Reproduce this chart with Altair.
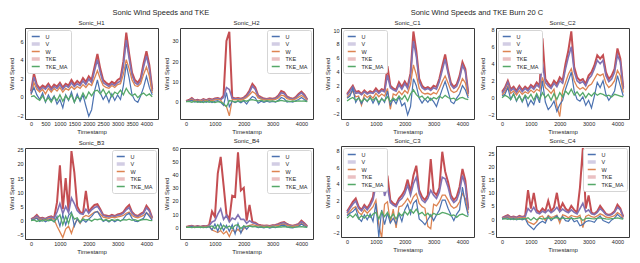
import altair as alt
import pandas as pd

FONT = "Liberation Sans"
TXT = "#262626"

# Timestamps (every 100 samples)
X = list(range(0, 4201, 100))

LEGEND_ORDER = ["U", "V", "W", "TKE", "TKE_MA"]
LINE_COLORS = ["#4c72b0", "#8172b3", "#dd8452", "#c44e52", "#55a868"]
DRAW_ORDER = ["TKE", "V", "W", "U", "TKE_MA"]
STROKE_W = {"TKE": 2.0, "V": 1.6, "W": 1.3, "U": 1.2, "TKE_MA": 1.3}

# ---------------- Sonic_H1 ----------------
H1_TKE = [0.6,2.5,1.3,0.9,1.2,1.0,1.4,0.9,1.3,1.1,1.5,1.0,1.4,1.2,1.8,1.3,1.7,1.4,2.0,1.6,2.2,1.8,3.2,4.6,3.0,1.8,1.5,1.3,1.6,1.4,1.8,2.0,3.8,6.9,4.6,2.6,1.8,1.5,2.0,3.6,4.9,3.4,0.8]
H1_V = [0.4,2.1,1.1,0.7,1.0,0.8,1.2,0.7,1.1,0.9,1.3,0.8,1.2,1.0,1.5,1.1,1.4,1.2,1.7,1.3,1.9,1.5,2.8,4.0,2.6,1.5,1.3,1.1,1.4,1.2,1.5,1.7,3.3,6.1,4.1,2.3,1.5,1.3,1.7,3.2,4.4,3.0,0.6]
H1_W = [0.2,1.5,0.8,0.5,0.8,0.3,0.9,0.5,0.9,0.6,1.0,0.5,0.9,0.7,1.1,0.8,1.1,0.9,1.3,1.0,1.4,1.2,2.0,2.8,1.9,1.2,1.0,0.9,1.2,1.0,1.3,1.4,2.4,4.0,3.0,1.8,1.2,1.1,1.4,2.4,3.2,2.2,0.4]
H1_U = [0.3,1.0,0.2,-0.3,0.4,-0.6,0.2,-0.4,0.1,-0.8,-0.3,-1.2,0.2,-0.4,0.5,-0.6,0.3,-0.5,0.2,-1.0,-2.1,-1.4,0.6,1.8,0.4,-0.3,0.2,-0.6,0.3,-0.4,0.2,-0.3,1.2,3.5,2.0,0.2,-0.4,-0.6,0.1,1.0,2.2,1.0,0.2]
H1_MA = [0.0,0.1,-0.2,-0.4,0.1,-0.5,-0.1,-0.6,0.0,-0.4,0.2,-0.5,0.1,-0.3,0.2,-0.6,0.0,-0.3,0.4,-0.2,0.5,0.1,0.6,0.7,0.3,0.8,0.2,0.6,0.0,0.5,0.3,0.7,0.2,0.9,0.4,0.1,0.3,-0.1,0.2,0.4,0.1,0.3,0.0]

# ---------------- Sonic_H2 ----------------
H2_TKE = [0.3,0.8,1.8,0.6,0.9,0.5,1.2,0.7,1.4,1.0,1.6,1.8,1.2,3.0,30.0,34.5,2.0,1.6,1.8,1.4,2.0,3.2,5.5,8.8,7.0,3.0,2.2,1.5,1.3,1.6,1.4,1.8,3.0,5.2,4.6,2.5,1.8,1.4,2.2,3.8,5.0,3.5,1.0]
H2_V = [0.2,0.6,1.4,0.5,0.7,0.4,1.0,0.6,1.1,0.8,1.3,1.5,1.0,2.0,7.0,6.0,1.6,1.3,1.5,1.1,1.7,2.7,4.6,7.6,6.0,2.5,1.8,1.2,1.1,1.3,1.2,1.5,2.5,4.4,3.9,2.1,1.5,1.2,1.8,3.2,4.3,3.0,0.8]
H2_W = [0.1,0.4,1.0,0.3,0.5,0.2,0.7,0.4,0.8,0.5,0.9,1.1,0.7,-1.5,-2.5,-7.0,1.1,0.9,1.1,0.8,1.2,2.0,3.4,5.0,4.0,1.8,1.3,0.9,0.8,1.0,0.9,1.1,1.8,3.2,2.8,1.5,1.1,0.9,1.3,2.2,3.0,2.1,0.5]
H2_U = [0.0,0.3,0.6,-0.2,0.2,-0.4,0.3,-0.3,0.4,-0.5,0.2,0.5,-0.4,-1.8,4.5,-2.5,0.3,-0.5,0.2,-0.6,0.4,-1.2,1.0,2.5,1.8,-0.8,0.2,-0.4,0.2,-0.3,0.1,-0.2,0.6,2.0,1.4,-0.2,0.1,-0.3,0.4,1.0,2.0,1.0,0.1]
H2_MA = [0.0,0.1,-0.3,0.2,-0.4,0.0,-0.5,0.2,-0.3,0.1,-0.5,0.0,-0.3,-1.0,-2.5,0.5,0.2,-0.2,0.4,0.0,0.6,0.2,0.8,1.0,0.6,0.3,0.7,0.1,0.5,0.2,0.4,0.0,0.3,0.6,0.2,0.4,0.0,0.3,0.1,0.4,0.2,0.3,0.0]

# ---------------- Sonic_C1 ----------------
C1_TKE = [0.8,1.4,2.0,1.1,1.2,0.8,1.3,0.9,1.2,1.0,1.6,1.1,1.5,1.3,4.8,2.0,1.6,1.4,2.5,1.8,2.6,1.9,3.8,9.8,7.0,3.0,2.0,1.6,1.8,1.5,2.0,1.8,3.0,4.8,6.5,4.2,2.4,1.8,2.2,3.4,5.4,4.4,1.0]
C1_V = [0.6,1.2,1.8,0.9,1.0,0.7,1.1,0.8,1.0,0.9,1.3,0.9,1.3,1.1,3.5,1.7,1.4,1.2,2.1,1.5,2.3,1.6,3.4,8.4,6.2,2.6,1.7,1.4,1.6,1.3,1.7,1.5,2.6,4.2,5.8,3.8,2.1,1.6,1.9,3.0,4.9,4.0,0.8]
C1_W = [0.3,0.8,1.2,0.4,0.5,-0.8,0.7,0.3,0.6,0.2,0.9,0.4,0.8,0.5,1.6,-1.4,0.8,0.6,1.2,0.7,1.3,0.9,2.2,5.0,3.6,1.6,1.0,0.8,0.9,0.7,1.0,0.8,1.6,2.6,3.4,2.4,1.3,1.0,1.2,1.9,3.0,2.4,0.5]
C1_U = [0.2,0.5,1.6,-0.4,0.3,-0.6,0.2,-0.3,0.4,-0.5,0.3,-0.7,0.2,-0.4,1.2,-0.8,0.1,-0.6,0.4,-0.9,-0.5,-2.2,-1.0,3.0,2.0,0.2,-0.5,0.1,-0.4,0.2,-0.3,-1.0,0.3,1.5,2.6,1.2,-0.3,-0.6,0.2,0.8,2.0,1.4,0.2]
C1_MA = [-0.2,0.1,0.3,-0.1,0.2,-0.3,0.1,-0.2,0.2,-0.1,0.3,-0.4,0.1,-0.2,0.4,-0.3,0.2,-0.1,0.5,0.0,0.6,-0.2,0.8,1.4,0.7,0.3,0.5,0.0,0.4,-0.1,0.3,0.1,0.5,0.2,0.6,0.3,0.1,0.2,-0.1,0.2,0.3,0.1,0.0]

# ---------------- Sonic_C2 ----------------
C2_TKE = [0.7,1.2,2.0,1.0,1.3,0.8,1.4,0.9,1.3,1.0,1.5,1.2,1.8,1.4,7.0,2.2,1.7,1.3,2.0,1.6,2.4,2.0,4.0,5.6,7.8,3.6,2.4,2.0,2.2,1.6,2.6,3.0,3.8,5.0,4.6,5.0,3.0,2.2,2.6,3.4,5.8,4.6,1.2]
C2_V = [0.5,1.0,1.8,0.8,1.1,0.6,1.2,0.7,1.1,0.8,1.3,1.0,1.5,1.2,4.0,1.8,1.4,1.1,1.7,1.3,2.0,1.7,3.4,4.8,6.0,3.1,2.0,1.7,1.9,1.4,2.2,2.6,3.4,4.4,4.0,4.4,2.6,1.9,2.2,3.0,5.0,4.2,1.0]
C2_W = [0.3,0.7,1.4,0.5,0.8,0.3,0.8,0.4,0.7,0.5,0.9,0.6,1.0,0.8,2.4,1.2,0.9,0.5,1.0,-1.0,-2.2,0.8,1.8,2.8,3.4,2.0,1.3,1.0,1.2,0.9,1.4,1.6,2.2,2.8,2.6,2.8,1.7,1.2,1.5,2.0,3.2,2.6,0.6]
C2_U = [0.2,0.4,1.2,-0.2,0.5,-0.4,0.3,-0.5,0.2,-1.0,-0.3,-0.8,0.3,-0.6,2.0,-0.5,-1.4,-1.0,-0.4,-1.6,-0.8,-0.3,1.0,2.0,3.0,0.8,-0.2,-0.4,0.1,-0.9,-0.3,-1.2,0.2,1.8,1.2,2.0,0.4,-0.3,0.2,0.8,2.6,1.4,0.2]
C2_MA = [0.0,0.3,0.1,-0.2,0.4,-0.3,0.2,-0.4,0.3,-0.1,0.4,-0.3,0.5,-0.2,0.6,0.0,0.4,-0.3,0.5,-0.2,0.6,0.1,0.8,0.4,1.0,0.3,0.7,0.2,0.6,0.0,0.5,0.2,0.6,0.3,0.5,0.4,0.2,0.3,0.1,0.4,0.3,0.2,0.1]

# ---------------- Sonic_B3 ----------------
B3_TKE = [0.5,1.0,2.0,0.8,1.0,0.6,1.2,1.5,0.9,6.5,19.5,4.0,15.0,3.5,24.5,17.0,5.0,3.0,2.5,10.5,3.0,4.5,5.5,5.8,4.0,2.0,1.8,1.5,2.0,1.6,2.2,2.4,3.0,4.5,5.5,3.0,2.0,1.6,2.4,3.0,5.2,3.8,1.0]
B3_V = [0.4,0.8,1.6,0.6,0.8,0.5,1.0,1.2,0.8,3.0,6.0,2.5,5.0,2.8,8.0,6.0,3.5,2.5,2.2,4.0,2.6,3.8,4.6,5.0,3.5,1.8,1.5,1.3,1.7,1.4,1.9,2.0,2.6,3.8,4.6,2.6,1.7,1.4,2.0,2.6,4.5,3.3,0.8]
B3_W = [0.2,0.5,1.0,0.3,0.5,0.2,0.6,0.8,0.4,-2.0,-4.0,-6.0,-3.0,-2.0,-4.5,-1.5,0.5,-1.0,1.2,1.8,1.4,2.2,3.0,3.2,2.2,1.2,1.0,0.8,1.2,1.0,1.3,1.5,1.8,2.6,3.0,1.8,1.2,1.0,1.4,1.8,2.8,2.0,0.5]
B3_U = [0.1,0.4,0.8,-0.3,0.3,-0.4,0.2,0.5,-0.5,1.5,-2.0,2.0,-1.5,1.8,3.0,-2.0,0.6,-0.8,0.3,-0.6,0.5,1.5,2.8,3.2,1.5,-0.3,0.2,-0.5,0.3,-0.4,0.2,-0.2,0.6,2.0,2.6,0.8,-0.2,-0.4,0.3,0.8,2.8,1.5,0.1]
B3_MA = [0.0,0.2,-0.3,0.1,-0.2,0.3,-0.1,0.2,-0.4,0.8,2.0,-1.5,1.5,-1.0,2.5,0.5,1.0,-0.5,0.6,0.2,0.4,-0.2,0.5,0.3,0.6,0.0,0.4,-0.2,0.3,0.1,0.4,-0.1,0.3,0.2,0.5,0.1,0.3,-0.1,0.2,0.3,0.4,0.1,0.0]

# ---------------- Sonic_B4 ----------------
B4_TKE = [0.3,0.8,1.2,0.5,0.9,0.4,1.0,0.8,1.5,12.0,8.0,41.0,53.5,32.0,10.0,6.0,24.0,23.0,57.0,28.0,30.0,5.0,17.0,4.0,3.5,2.0,1.5,1.2,1.4,1.0,1.5,1.8,2.5,3.5,4.0,2.5,1.5,1.2,1.8,2.5,5.0,3.0,0.8]
B4_V = [0.2,0.6,1.0,0.4,0.7,0.3,0.8,0.6,1.2,4.0,5.0,10.0,14.0,6.0,9.0,4.0,7.0,6.0,9.5,6.0,6.0,3.0,5.0,3.5,2.8,1.6,1.2,1.0,1.2,0.8,1.3,1.5,2.0,3.0,3.4,2.1,1.3,1.0,1.5,2.1,4.2,2.5,0.6]
B4_W = [0.1,0.4,0.6,0.2,0.5,0.1,0.5,0.4,0.8,-2.0,-3.0,-4.0,-2.5,-5.0,-3.0,-7.0,-2.0,-3.5,-1.5,-4.0,-1.0,0.8,1.5,2.0,1.5,1.0,0.8,0.6,0.8,0.5,0.9,1.0,1.4,2.0,2.4,1.4,0.8,0.6,1.0,1.4,2.8,1.6,0.4]
B4_U = [0.0,0.2,0.5,-0.2,0.3,-0.3,0.2,-0.2,0.5,-2.0,2.5,-3.0,3.0,-2.5,1.5,-3.0,2.0,-5.0,3.0,-4.5,1.0,-1.5,1.0,0.8,0.6,-0.3,0.1,-0.4,0.2,-0.6,0.1,-0.2,0.4,1.4,1.6,0.3,-0.2,-0.4,0.2,0.6,2.5,1.0,0.1]
B4_MA = [0.0,0.1,-0.2,0.1,-0.1,0.2,-0.2,0.1,0.3,1.0,-1.0,2.0,-1.5,1.5,-0.5,1.0,-1.0,1.5,2.0,-1.0,1.0,0.5,0.8,0.4,0.6,0.1,0.3,-0.1,0.2,0.0,0.3,0.1,0.4,0.2,0.5,0.1,0.2,0.0,0.1,0.3,0.5,0.2,0.0]

# ---------------- Sonic_C3 ----------------
C3_TKE = [0.6,1.2,1.8,2.2,1.2,0.8,1.4,1.0,1.6,2.4,5.3,4.0,8.1,3.0,5.0,2.0,1.6,1.4,2.2,2.6,3.2,4.5,3.0,5.0,6.2,3.2,2.4,2.0,2.6,7.0,3.0,2.6,3.5,7.9,5.5,4.2,2.6,2.0,2.4,3.6,5.8,4.4,1.0]
C3_V = [0.4,1.0,1.5,1.9,1.0,0.7,1.2,0.8,1.3,2.0,3.8,3.2,5.0,2.5,3.6,1.7,1.4,1.2,1.9,2.2,2.8,3.8,2.6,4.0,4.8,2.8,2.0,1.7,2.2,3.2,2.6,2.2,3.0,4.8,4.6,3.6,2.2,1.7,2.0,3.0,5.0,3.8,0.8]
C3_W = [0.2,0.6,1.0,1.2,0.5,0.2,0.8,0.4,0.8,1.2,2.0,-1.0,-2.6,1.5,1.8,-0.8,0.9,-1.4,1.2,1.3,1.7,2.2,1.6,2.4,2.8,1.6,1.2,1.0,-1.2,-1.5,1.5,1.3,1.8,2.6,2.6,2.0,1.3,1.0,1.2,1.8,2.8,2.2,0.4]
C3_U = [0.1,0.4,0.6,1.0,-0.2,-0.6,0.2,-0.4,0.3,-0.6,1.6,-2.5,0.8,-1.0,0.4,-0.8,-0.2,-0.9,0.4,-0.6,0.8,1.5,0.3,1.6,2.0,-0.3,-0.6,-1.0,-0.4,0.2,-0.5,0.2,0.8,2.0,2.0,1.0,0.2,-0.5,0.3,0.8,3.6,1.6,0.1]
C3_MA = [-0.2,0.2,-0.1,0.3,-0.3,0.1,-0.2,0.2,-0.1,0.3,0.5,-0.3,0.6,0.0,0.5,-0.2,0.3,-0.3,0.4,0.1,0.6,0.2,0.8,0.4,0.9,0.3,0.5,0.1,0.4,0.0,0.4,0.2,0.3,0.5,0.4,0.3,0.1,0.2,-0.1,0.2,0.3,0.1,0.0]

# ---------------- Sonic_C4 ----------------
C4_TKE = [0.5,1.0,1.5,0.7,1.0,0.6,1.2,0.8,1.2,11.0,4.0,10.0,3.5,2.5,4.0,3.0,7.0,3.0,4.5,10.0,3.5,6.0,4.0,3.0,5.0,3.5,2.5,12.0,27.0,4.0,9.0,2.5,2.0,3.0,5.0,3.5,2.0,1.6,2.0,3.0,5.5,4.0,1.0]
C4_V = [0.4,0.8,1.2,0.6,0.8,0.5,1.0,0.7,1.0,4.0,2.8,4.5,2.5,2.0,3.0,2.4,3.5,2.4,3.2,4.5,2.8,3.8,3.0,2.4,3.5,2.6,2.0,4.0,6.0,2.8,3.5,2.0,1.7,2.5,4.0,3.0,1.7,1.4,1.7,2.6,4.5,3.5,0.8]
C4_W = [0.2,0.5,0.8,0.3,0.5,0.2,0.6,0.4,0.6,-1.0,-1.5,-2.0,-1.0,0.8,1.2,-0.5,1.4,0.6,1.0,1.5,-1.5,1.6,1.2,0.5,1.4,1.0,0.8,1.5,-3.2,1.0,1.6,0.9,0.7,1.2,2.0,1.5,0.8,0.6,0.9,1.3,2.5,1.8,0.4]
C4_U = [0.1,0.3,0.5,-0.2,0.3,-0.3,0.2,-0.3,0.2,-2.0,-3.0,-4.0,-2.5,-1.5,-0.8,-1.5,1.0,-0.6,0.4,1.2,-0.3,1.0,-0.6,-0.8,0.6,-1.0,-0.5,-2.5,-2.0,-1.0,-0.6,-0.8,-1.2,0.3,1.2,-0.5,-1.0,-1.5,-0.3,0.4,1.8,0.8,0.1]
C4_MA = [0.0,0.2,-0.1,0.2,-0.2,0.1,-0.1,0.2,0.1,0.5,-0.4,0.6,-0.3,0.4,0.0,0.3,0.5,0.1,0.4,0.6,0.2,0.5,0.3,0.2,0.4,0.1,0.3,0.6,-0.5,0.3,0.4,0.2,0.1,0.3,0.5,0.3,0.1,0.0,0.2,0.3,0.5,0.2,0.0]

XT_FINE = [0, 500, 1000, 1500, 2000, 2500, 3000, 3500, 4000]
XT = [0, 1000, 2000, 3000, 4000]

PANELS = {
    "Sonic_H1": dict(s=(H1_U, H1_V, H1_W, H1_TKE, H1_MA), yd=[-2.4, 7.4], yt=[-2, 0, 2, 4, 6], xt=XT_FINE, lg="top-left"),
    "Sonic_H2": dict(s=(H2_U, H2_V, H2_W, H2_TKE, H2_MA), yd=[-8.6, 36.4], yt=[0, 10, 20, 30], xt=XT, lg="top-right"),
    "Sonic_C1": dict(s=(C1_U, C1_V, C1_W, C1_TKE, C1_MA), yd=[-2.8, 10.3], yt=[-2, 0, 2, 4, 6, 8, 10], xt=XT, lg="top-left"),
    "Sonic_C2": dict(s=(C2_U, C2_V, C2_W, C2_TKE, C2_MA), yd=[-2.5, 8.2], yt=[-2, 0, 2, 4, 6, 8], xt=XT, lg="top-left"),
    "Sonic_B3": dict(s=(B3_U, B3_V, B3_W, B3_TKE, B3_MA), yd=[-6.5, 25.6], yt=[-5, 0, 5, 10, 15, 20, 25], xt=XT, lg="top-right"),
    "Sonic_B4": dict(s=(B4_U, B4_V, B4_W, B4_TKE, B4_MA), yd=[-8.9, 60.2], yt=[0, 10, 20, 30, 40, 50, 60], xt=XT, lg="top-right"),
    "Sonic_C3": dict(s=(C3_U, C3_V, C3_W, C3_TKE, C3_MA), yd=[-2.5, 8.6], yt=[-2, 0, 2, 4, 6, 8], xt=XT, lg="top-left"),
    "Sonic_C4": dict(s=(C4_U, C4_V, C4_W, C4_TKE, C4_MA), yd=[-6.8, 27.8], yt=[-5, 0, 5, 10, 15, 20, 25], xt=XT, lg="top-right"),
}

W, H = 133, 91

PATCH_TEST = "datum.value === 'V' || datum.value === 'TKE'"


def panel(name):
    p = PANELS[name]
    rows = []
    for key, vals in zip(LEGEND_ORDER, p["s"]):
        for t, v in zip(X, vals):
            rows.append({"Timestamp": t, "value": v, "series": key})
    df = pd.DataFrame(rows)
    legend = alt.Legend(
        title=None, orient=p["lg"], offset=2, padding=3, labelFontSize=5.5,
        labelFont=FONT, labelColor=TXT, symbolType="M-2,0H2", symbolSize=16,
        symbolOffset=3, rowPadding=0.5, labelOffset=7, fillColor="white",
        strokeColor="#d5d5d5", cornerRadius=2, clipHeight=7,
        symbolStrokeWidth={"expr": f"{PATCH_TEST} ? 3.5 : 1.5"},
        symbolOpacity={"expr": f"{PATCH_TEST} ? 0.35 : 1"},
    )
    color = alt.Color(
        "series:N",
        scale=alt.Scale(domain=LEGEND_ORDER, range=LINE_COLORS),
        legend=legend,
    )
    x = alt.X("Timestamp:Q", scale=alt.Scale(domain=[-210, 4400], nice=False, zero=False),
              axis=alt.Axis(values=p["xt"], title="Timestamp", format="d"))
    y = alt.Y("value:Q", scale=alt.Scale(domain=p["yd"], nice=False, zero=False),
              axis=alt.Axis(values=p["yt"], title="Wind Speed", format="d"))
    layers = []
    for s in DRAW_ORDER:
        layers.append(
            alt.Chart(df)
            .transform_filter(alt.datum.series == s)
            .mark_line(strokeWidth=STROKE_W[s], clip=True)
            .encode(x=x, y=y, color=color)
        )
    return alt.layer(*layers).properties(
        width=W, height=H,
        title=alt.TitleParams(name, fontSize=6, fontWeight="normal", font=FONT,
                              color=TXT, offset=2, anchor="middle"),
    )


def row(a, b):
    return alt.hconcat(panel(a), panel(b), spacing=4).resolve_scale(color="independent").resolve_legend(color="independent")


def group(title, r1, r2):
    return alt.vconcat(
        row(*r1), row(*r2), spacing=2,
        title=alt.TitleParams(title, fontSize=7.5, fontWeight="normal", font=FONT,
                              color=TXT, anchor="middle", offset=3),
    ).resolve_scale(color="independent").resolve_legend(color="independent")


chart = alt.hconcat(
    group("Sonic Wind Speeds and TKE", ("Sonic_H1", "Sonic_H2"), ("Sonic_B3", "Sonic_B4")),
    group("Sonic Wind Speeds and TKE Burn 20 C", ("Sonic_C1", "Sonic_C2"), ("Sonic_C3", "Sonic_C4")),
    spacing=10,
).resolve_scale(color="independent").resolve_legend(color="independent").properties(
    padding=0, background="white"
).configure(
    view=alt.ViewConfig(stroke="#3a3a3a", strokeWidth=1),
    axis=alt.AxisConfig(
        grid=False, domain=False, ticks=False, labelFontSize=5.5, titleFontSize=6,
        labelFont=FONT, titleFont=FONT, labelColor=TXT, titleColor=TXT,
        titleFontWeight="normal", labelPadding=2, titlePadding=2,
    ),
    style={"guide-label": {"fontSize": 5.5, "font": FONT}},
)

chart.save("out.html", embed_options={"renderer": "svg", "actions": False})
